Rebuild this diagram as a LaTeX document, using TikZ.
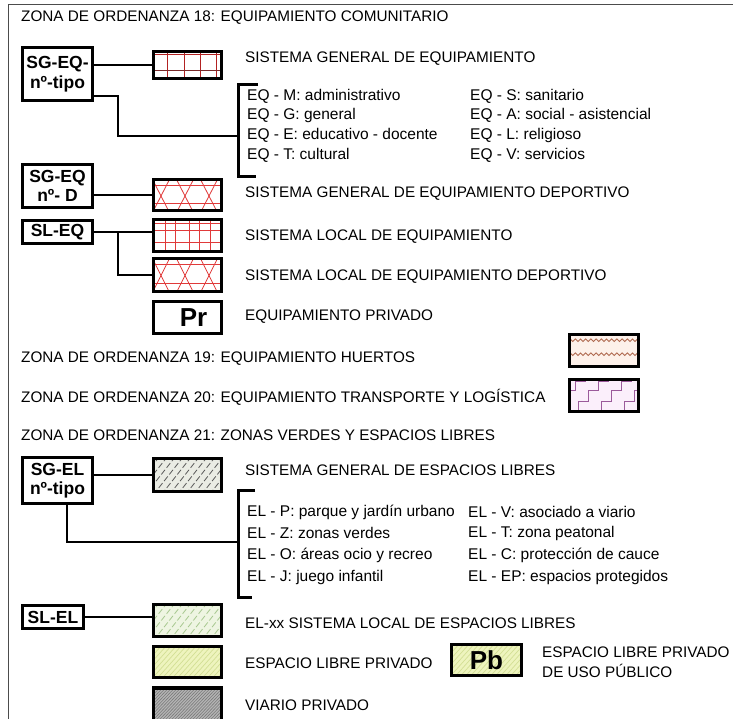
\documentclass[tikz,border=0pt]{standalone}
\usepackage{fontspec}
\setmainfont{Liberation Sans}
\usetikzlibrary{calc}
\definecolor{gridred}{HTML}{B22222}
\definecolor{gridbrown}{HTML}{7A2A2A}
\definecolor{latred}{HTML}{E03A3A}
\definecolor{huertoline}{HTML}{B06A50}
\definecolor{huertofill}{HTML}{FDF1EA}
\definecolor{transline}{HTML}{9B5A9B}
\definecolor{transfill}{HTML}{FBEFFB}
\definecolor{sgelfill}{HTML}{EAECE4}
\definecolor{sgelline}{HTML}{5A5A5A}
\definecolor{slelfill}{HTML}{EEF5E2}
\definecolor{slelline}{HTML}{A8C890}
\definecolor{privfill}{HTML}{EEF4BE}
\definecolor{privline}{HTML}{D3DF95}
\definecolor{viafill}{HTML}{B4B4B4}
\definecolor{vialine}{HTML}{7A7A7A}
\newcommand\patin[2]{%
  \begin{scope}
    \clip (#1.north west) rectangle (#1.south east);
    \begin{scope}[shift={(#1.north west)}]#2\end{scope}
  \end{scope}
  \draw[line width=3.2pt] (#1.north west) rectangle (#1.south east);}
\begin{document}
\begin{tikzpicture}[x=1pt,y=-1pt,
  lab/.style={draw, line width=3.2pt, font=\fontsize{17.5}{19.5}\selectfont\bfseries, align=center, inner sep=0pt, minimum width=70pt},
  patbox/.style={draw, line width=3.2pt, minimum width=68pt, inner sep=0pt, outer sep=0pt},
  conn/.style={line width=2.4pt},
  brk/.style={line width=3pt},
  txt/.style={anchor=west, font=\fontsize{15.3}{18}\selectfont, inner sep=0pt},
  itm/.style={anchor=west, font=\fontsize{15.5}{18}\selectfont, inner sep=0pt},
  big/.style={font=\fontsize{26}{28}\selectfont\bfseries},
  gA/.style={line width=0.9pt, draw=gridred},
  gL/.style={line width=0.8pt, draw=latred},
  gH/.style={line width=0.9pt, draw=huertoline},
  gT/.style={line width=0.9pt, draw=transline},
  hA/.style={line width=0.8pt, draw=sgelline, dash pattern=on 6pt off 2.5pt},
  hB/.style={line width=0.8pt, draw=slelline, dash pattern=on 6pt off 2.5pt},
  hC/.style={line width=0.7pt, draw=privline},
  hD/.style={line width=0.6pt, draw=vialine}
]
\useasboundingbox (0,0) rectangle (733,719);
\clip (0,0) rectangle (733,719);

% frame
\coordinate (ftr) at (733,5);
\coordinate (ftl) at (8,5);
\coordinate (fbl) at (8,719);
\draw[line width=1pt, black!70] (ftr) -- (ftl) -- (fbl);

% ---- Zona 18 ----
\node[txt] (t18) at (21,18) {ZONA DE ORDENANZA 18: EQUIPAMIENTO COMUNITARIO};

\node[lab, minimum height=53pt] (sgeq) at (57.5,74) {SG-EQ-\\nº-tipo};
\node[patbox, minimum height=27pt] (p1) at (187.5,65) {};
\patin{p1}{\foreach \xx in {14.4,31,47,63} \draw[gA] (\xx,-5) -- (\xx,40);
  \draw[gA] (-5,3.4) -- (80,3.4); \draw[gA, gridbrown] (-5,19.4) -- (80,19.4);}
\node[txt] (l1) at (245,59) {SISTEMA GENERAL DE EQUIPAMIENTO};
\draw[conn] (sgeq.east |- p1.west) -- (p1.west);

\coordinate (b1t) at (258,85);
\coordinate (b1m) at (238,136);
\coordinate (b1b) at (256,177);
\draw[conn] ([yshift=-22pt]sgeq.east) -- ++(24,0) |- (b1m);
\draw[brk] (b1t) -| (b1m) |- (b1b);

\node[itm] (eqm) at (247,96) {EQ - M: administrativo};
\node[itm] (eqg) at (247,115) {EQ - G: general};
\node[itm] (eqe) at (247,135) {EQ - E: educativo - docente};
\node[itm] (eqt) at (247,155) {EQ - T: cultural};
\node[itm] (eqs) at (470,96) {EQ - S: sanitario};
\node[itm] (eqa) at (470,115) {EQ - A: social - asistencial};
\node[itm] (eql) at (470,135) {EQ - L: religioso};
\node[itm] (eqv) at (470,155) {EQ - V: servicios};

\node[lab, minimum height=43pt] (sgeqd) at (57.5,186) {SG-EQ\\nº- D};
\node[patbox, minimum height=31pt] (p2) at (187.5,195) {};
\patin{p2}{\draw[gL] (-5,5.5) -- (80,5.5); \draw[gL] (-5,23.5) -- (80,23.5);
  \foreach \k in {-2,...,4} {\draw[gL] (\k*24-2,-2) -- (\k*24+17,35); \draw[gL] (\k*24+17,-2) -- (\k*24-2,35);}}
\node[txt] (l2) at (245,194) {SISTEMA GENERAL DE EQUIPAMIENTO DEPORTIVO};
\draw[conn] (sgeqd.east |- p2.west) -- (p2.west);

\node[lab, minimum height=23pt] (sleq) at (57.5,232) {SL-EQ};
\node[patbox, minimum height=32pt] (p3) at (187.5,235.5) {};
\patin{p3}{\foreach \xx in {11.4,21.4,35.4,45.4,56.4} \draw[gL] (\xx,-5) -- (\xx,40);
  \foreach \yy in {3.5,10.5,22.5} \draw[gL] (-5,\yy) -- (80,\yy);}
\node[txt] (l3) at (245,237) {SISTEMA LOCAL DE EQUIPAMIENTO};
\draw[conn] (sleq.east) -- (sleq.east -| p3.west);

\node[patbox, minimum height=33pt] (p4) at (187.5,275) {};
\patin{p4}{\draw[gL] (-5,5.5) -- (80,5.5); \draw[gL] (-5,25) -- (80,25);
  \foreach \k in {-2,...,4} {\draw[gL] (\k*24-2,-2) -- (\k*24+17,36); \draw[gL] (\k*24+17,-2) -- (\k*24-2,36);}}
\node[txt] (l4) at (245,277) {SISTEMA LOCAL DE EQUIPAMIENTO DEPORTIVO};
\draw[conn] ($(sleq.east)+(24,0)$) |- (p4.west);

\node[patbox, big, minimum height=32pt] (pr) at (187.5,317.5) {\hspace*{12pt}Pr};
\node[txt] (l5) at (245,317) {EQUIPAMIENTO PRIVADO};

% ---- Zona 19 / 20 ----
\node[txt] (t19) at (21,359) {ZONA DE ORDENANZA 19: EQUIPAMIENTO HUERTOS};
\node[patbox, fill=huertofill, minimum width=69pt, minimum height=32pt] (ph) at (604,350.5) {};
\patin{ph}{\foreach \yy in {7,21} \draw[gH] (-2,\yy) \foreach \i in {0,...,14} {-- ++(2.6,-2.6) -- ++(2.6,2.6)};}
\node[txt] (t20) at (21,397) {ZONA DE ORDENANZA 20: EQUIPAMIENTO TRANSPORTE Y LOGÍSTICA};
\node[patbox, fill=transfill, minimum width=69pt, minimum height=32pt] (pt) at (604,395.5) {};
\patin{pt}{\foreach \xx in {-14,9,32,55} \draw[gT] (\xx,40) -- (\xx,22) -- (\xx+10,22) -- (\xx+10,11) -- (\xx+20,11) -- (\xx+20,2) -- (\xx+30,2);}

% ---- Zona 21 ----
\node[txt] (t21) at (21,435) {ZONA DE ORDENANZA 21: ZONAS VERDES Y ESPACIOS LIBRES};

\node[lab, minimum height=46pt] (sgel) at (57.5,480.5) {SG-EL\\nº-tipo};
\node[patbox, fill=sgelfill, minimum height=33pt] (p5) at (187.5,475) {};
\patin{p5}{\foreach \k in {-40,-32,...,80} \draw[hA] (\k,36) -- (\k+30,-2);}
\node[txt] (l6) at (245,470) {SISTEMA GENERAL DE ESPACIOS LIBRES};
\draw[conn] (sgel.east |- p5.west) -- (p5.west);

\coordinate (b2t) at (255,490);
\coordinate (b2m) at (238,542);
\coordinate (b2b) at (252,597);
\draw[conn] ([xshift=9.5pt]sgel.south) |- (b2m);
\draw[brk] (b2t) -| (b2m) |- (b2b);

\node[itm] (elp) at (247,512) {EL - P: parque y jardín urbano};
\node[itm] (elz) at (247,533) {EL - Z: zonas verdes};
\node[itm] (elo) at (247,555) {EL - O: áreas ocio y recreo};
\node[itm] (elj) at (247,577) {EL - J: juego infantil};
\node[itm] (elv) at (468,512) {EL - V: asociado a viario};
\node[itm] (elt) at (468,533) {EL - T: zona peatonal};
\node[itm] (elc) at (468,555) {EL - C: protección de cauce};
\node[itm] (elep) at (468,577) {EL - EP: espacios protegidos};

\node[lab, minimum width=61pt, minimum height=23pt] (slel) at (53,617) {SL-EL};
\node[patbox, fill=slelfill, minimum height=32pt] (p6) at (187.5,620.5) {};
\patin{p6}{\foreach \k in {-40,-32,...,80} \draw[hB] (\k,36) -- (\k+30,-2);}
\node[txt] (l7) at (245,623) {EL-xx SISTEMA LOCAL DE ESPACIOS LIBRES};
\draw[conn] (slel.east) -- (slel.east -| p6.west);

\node[patbox, fill=privfill, minimum height=31pt] (p7) at (187.5,662) {};
\patin{p7}{\foreach \k in {-40,-35,...,80} \draw[hC] (\k,36) -- (\k+34,-2);}
\node[txt] (l8) at (245,663) {ESPACIO LIBRE PRIVADO};
\node[patbox, fill=privfill, minimum width=70pt, minimum height=31pt] (pb) at (486.5,660) {};
\patin{pb}{\foreach \k in {-40,-35,...,80} \draw[hC] (\k,36) -- (\k+34,-2);}
\node[big] (pbt) at (pb.center) {Pb};
\node[txt, align=left, font=\fontsize{15.3}{20}\selectfont] (l9) at (542,662) {ESPACIO LIBRE PRIVADO\\DE USO PÚBLICO};

\node[patbox, fill=viafill, minimum height=36pt] (p8) at (187.5,706) {};
\patin{p8}{\foreach \k in {-44,-41,...,80} \draw[hD] (\k,40) -- (\k+40,-2);}
\node[txt] (l10) at (245,705) {VIARIO PRIVADO};
\end{tikzpicture}
\end{document}
